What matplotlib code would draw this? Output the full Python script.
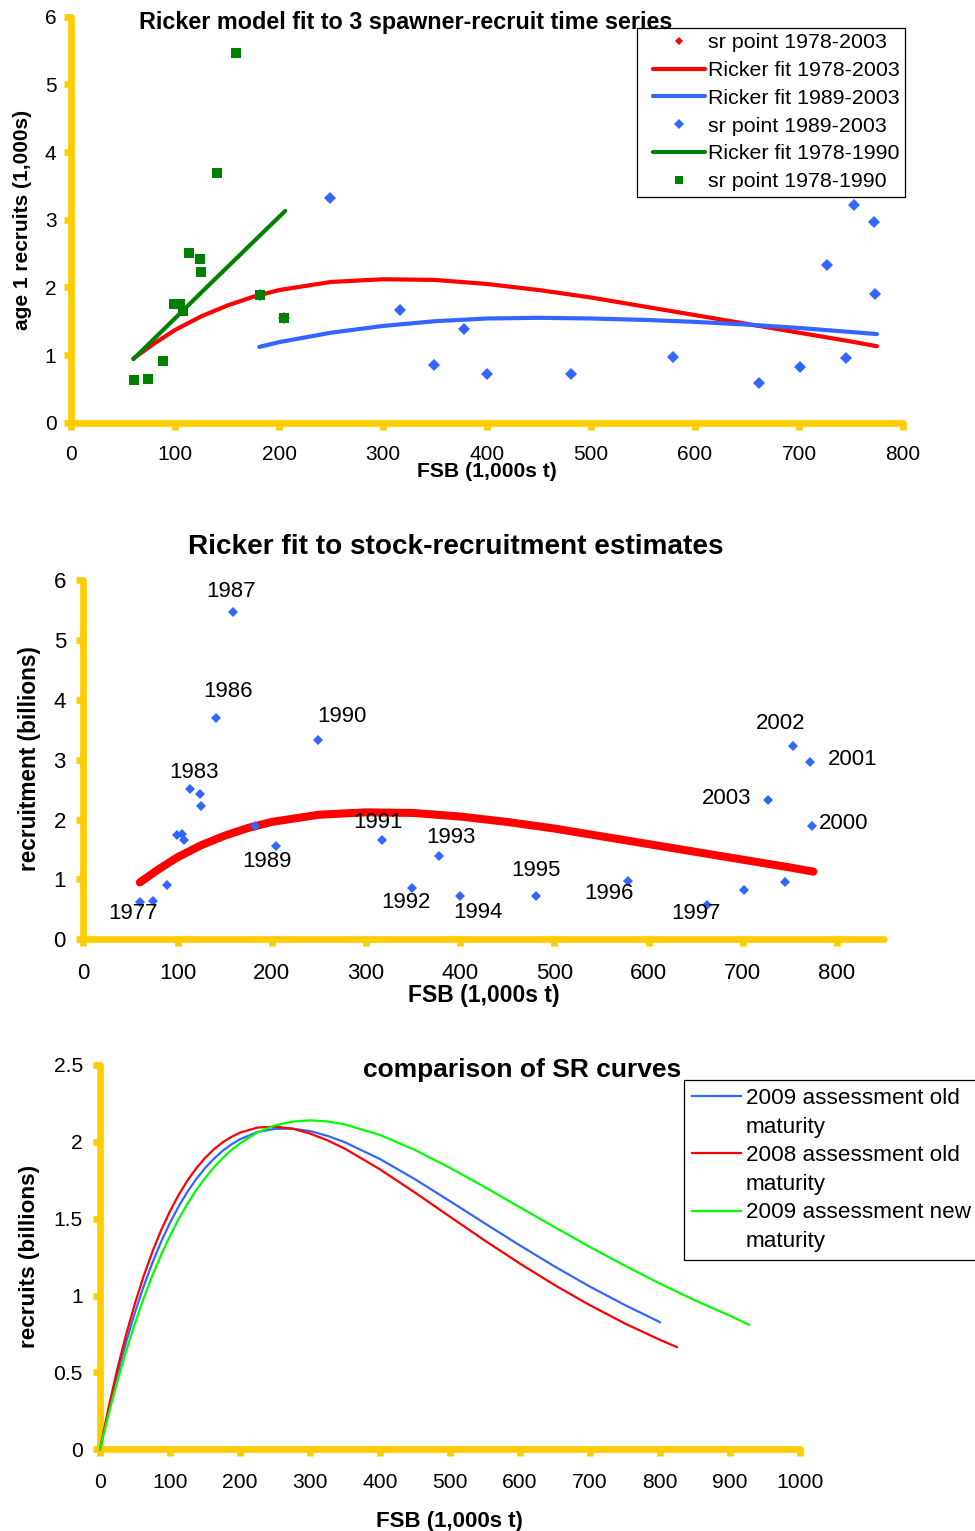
import matplotlib.pyplot as plt
from matplotlib.lines import Line2D
from matplotlib.legend_handler import HandlerLine2D

plt.rcParams['font.family'] = ['Liberation Sans', 'DejaVu Sans']

# spawner-recruit points, one per year (FSB 1,000s t, recruits billions)
years = list(range(1977, 2004))
fsb = [60.3, 74.3, 88.8, 99.0, 104.8, 107.4, 113.5, 124.0, 124.7, 140.4,
       159.0, 182.0, 205.0, 249.0, 316.6, 349.4, 377.6, 400.3, 480.8, 578.5,
       661.9, 701.3, 745.2, 773.4, 771.8, 753.2, 726.6]
recruits = [0.63, 0.64, 0.91, 1.75, 1.76, 1.65, 2.51, 2.42, 2.22, 3.69,
            5.46, 1.89, 1.55, 3.32, 1.66, 0.86, 1.39, 0.72, 0.72, 0.975,
            0.58, 0.83, 0.95, 1.90, 2.96, 3.22, 2.33]
labelled_years = [1977, 1983, 1986, 1987, 1989, 1990, 1991, 1992, 1993, 1994,
                  1995, 1996, 1997, 2000, 2001, 2002, 2003]

# Ricker fits
fit_all_x = [60, 80, 100, 125, 150, 175, 200, 250, 300, 350, 400, 450, 500,
             550, 600, 650, 700, 750, 775]
fit_all_y = [0.95, 1.17, 1.37, 1.57, 1.73, 1.86, 1.96, 2.08, 2.12, 2.11, 2.05,
             1.96, 1.85, 1.72, 1.59, 1.46, 1.33, 1.20, 1.13]
fit_late_x = [181, 200, 250, 300, 350, 400, 450, 500, 550, 600, 650, 700, 750, 775]
fit_late_y = [1.12, 1.19, 1.33, 1.43, 1.50, 1.54, 1.55, 1.54, 1.52, 1.49, 1.45,
              1.40, 1.34, 1.31]
fit_early_x = [60, 133, 206]
fit_early_y = [0.94, 2.04, 3.13]

# SR curves of the three assessments (bottom chart)
old09_x = [0, 12.5, 25, 37.5, 50, 62.5, 75, 87.5, 100, 112.5, 125, 137.5, 150,
           162.5, 175, 187.5, 200, 225, 250, 275, 300, 325, 350, 400, 450,
           500, 550, 600, 650, 700, 750, 800]
old09_y = [0, 0.257, 0.49, 0.701, 0.891, 1.062, 1.215, 1.352, 1.474, 1.581,
           1.676, 1.758, 1.829, 1.889, 1.941, 1.983, 2.017, 2.064, 2.085,
           2.086, 2.070, 2.039, 1.997, 1.888, 1.757, 1.614, 1.469, 1.326,
           1.188, 1.058, 0.938, 0.827]
old08_x = [0, 12.5, 25, 37.5, 50, 62.5, 75, 87.5, 100, 112.5, 125, 137.5, 150,
           162.5, 175, 187.5, 200, 225, 250, 275, 300, 325, 350, 400, 450,
           500, 550, 600, 650, 700, 750, 800, 824]
old08_y = [0, 0.277, 0.526, 0.750, 0.95, 1.128, 1.287, 1.427, 1.549, 1.656,
           1.749, 1.828, 1.895, 1.951, 1.996, 2.032, 2.06, 2.093, 2.099, 2.086,
           2.054, 2.010, 1.955, 1.821, 1.67, 1.513, 1.357, 1.208, 1.067,
           0.937, 0.818, 0.712, 0.665]
new09_x = [0, 12.5, 25, 37.5, 50, 62.5, 75, 87.5, 100, 112.5, 125, 137.5, 150,
           162.5, 175, 187.5, 200, 225, 250, 275, 300, 325, 350, 400, 450,
           500, 550, 600, 650, 700, 750, 800, 850, 900, 927]
new09_y = [0, 0.233, 0.446, 0.642, 0.821, 0.984, 1.133, 1.267, 1.389, 1.499,
           1.598, 1.686, 1.764, 1.833, 1.893, 1.946, 1.991, 2.061, 2.107,
           2.132, 2.14, 2.133, 2.113, 2.045, 1.947, 1.831, 1.705, 1.574,
           1.444, 1.316, 1.194, 1.078, 0.969, 0.869, 0.81]

YELLOW = '#FFCC00'
RED = '#FF0000'
BLUE = '#3366FF'
DKGREEN = '#008000'
LTGREEN = '#00FF00'

W, H = 975, 1531


def px_box(left, top, right, bottom):
    return [left / W, 1 - bottom / H, (right - left) / W, (bottom - top) / H]


def style_axes(ax, fs, xpad, ypad):
    for s in ['top', 'right']:
        ax.spines[s].set_visible(False)
    for s in ['left', 'bottom']:
        ax.spines[s].set_color(YELLOW)
        ax.spines[s].set_linewidth(4.8)
        ax.spines[s].set_capstyle('round')
    ax.tick_params(direction='out', length=5, width=4.8, color=YELLOW,
                   labelsize=fs, labelcolor='black')
    ax.tick_params(axis='x', pad=xpad)
    ax.tick_params(axis='y', pad=ypad)


fig = plt.figure(figsize=(9.75, 15.31), dpi=100)

# ---- top chart ----
ax1 = fig.add_axes(px_box(71, 16.7, 903, 422.7))
p_all, = ax1.plot(fsb, recruits, linestyle='none', marker='D', ms=5.6,
                  mew=0, color=RED, zorder=3)
l_all, = ax1.plot(fit_all_x, fit_all_y, color=RED, lw=3, zorder=3,
                  solid_capstyle='round')
l_late, = ax1.plot(fit_late_x, fit_late_y, color=BLUE, lw=3, zorder=3,
                   solid_capstyle='round')
p_late, = ax1.plot(fsb[11:], recruits[11:], linestyle='none', marker='D',
                   ms=5.8, mew=0, color=BLUE, zorder=3)
l_early, = ax1.plot(fit_early_x, fit_early_y, color=DKGREEN, lw=3, zorder=3,
                    solid_capstyle='round')
p_early, = ax1.plot(fsb[:13], recruits[:13], linestyle='none', marker='s',
                    ms=7.6, mew=0, color=DKGREEN, zorder=3)
ax1.set_xlim(0, 800)
ax1.set_ylim(0, 6)
ax1.set_xticks(range(0, 801, 100))
ax1.set_yticks(range(0, 7))
style_axes(ax1, 15, 10.8, 5.5)
leg1 = ax1.legend([p_all, l_all, l_late, p_late, l_early, p_early],
                  ['sr point 1978-2003', 'Ricker fit 1978-2003',
                   'Ricker fit 1989-2003', 'sr point 1989-2003',
                   'Ricker fit 1978-1990', 'sr point 1978-1990'],
                  loc='upper left', bbox_to_anchor=(637 / W, 1 - 28 / H),
                  bbox_transform=fig.transFigure, borderaxespad=0,
                  fontsize=15.4, fancybox=False, framealpha=1,
                  edgecolor='black', borderpad=0.25, labelspacing=0.41,
                  handlelength=2.95, handletextpad=0.1, markerscale=0.8,
                  handler_map={Line2D: HandlerLine2D(xpad=0.48)})
leg1.get_frame().set_linewidth(0.9)
fig.text(406 / W, 1 - 29.3 / H, 'Ricker model fit to 3 spawner-recruit time series',
         ha='center', va='baseline', fontsize=16.8, fontweight='bold')
fig.text(487 / W, 1 - 477 / H, 'FSB (1,000s t)', ha='center', va='baseline',
         fontsize=15.2, fontweight='bold')
fig.text(22.5 / W, 1 - 220 / H, 'age 1 recruits (1,000s)', ha='center',
         va='center', rotation=90, fontsize=15, fontweight='bold')

# ---- middle chart ----
ax2 = fig.add_axes(px_box(83.3, 580, 884, 939.3))
ax2.plot(fit_all_x, fit_all_y, color=RED, lw=5.8, solid_capstyle='round',
         zorder=3)
ax2.plot(fsb, recruits, linestyle='none', marker='D', ms=5, mew=0,
         color=BLUE, zorder=4)
label_offsets = {1977: (-5.3, -8.9), 1983: (2.7, 12.0), 1986: (8.6, 19.4),
                 1987: (-1.4, 15.1), 1989: (-7.0, -10.8), 1990: (17.0, 17.0),
                 1991: (-2.5, 12.7), 1992: (-5.0, -10.6), 1993: (8.4, 13.2),
                 1994: (12.3, -12.1), 1995: (0, 18.5), 1996: (-14.2, -9.1),
                 1997: (-7.9, -6.7), 2000: (22.7, 1.4), 2001: (30.2, 1.7),
                 2002: (-9.0, 16.8), 2003: (-29.3, 0.7)}
for yr in labelled_years:
    i = years.index(yr)
    ax2.annotate(str(yr), (fsb[i], recruits[i]), xytext=label_offsets[yr],
                 textcoords='offset points', ha='center', va='center',
                 fontsize=16, zorder=5)
ax2.set_xlim(0, 850)
ax2.set_ylim(0, 6)
ax2.set_xticks(range(0, 801, 100))
ax2.set_yticks(range(0, 7))
style_axes(ax2, 16, 12, 7.5)
fig.text(455.8 / W, 1 - 554 / H, 'Ricker fit to stock-recruitment estimates',
         ha='center', va='baseline', fontsize=20.1, fontweight='bold')
fig.text(483.5 / W, 1 - 1001.7 / H, 'FSB (1,000s t)', ha='center',
         va='baseline', fontsize=16.5, fontweight='bold')
fig.text(29.5 / W, 1 - 759 / H, 'recruitment (billions)', ha='center',
         va='center', rotation=90, fontsize=16.3, fontweight='bold')

# ---- bottom chart ----
ax3 = fig.add_axes(px_box(100, 1065, 800, 1449.3))
c1, = ax3.plot(old09_x, old09_y, color=BLUE, lw=1.6, zorder=3, clip_on=False)
c2, = ax3.plot(old08_x, old08_y, color=RED, lw=1.6, zorder=3, clip_on=False)
c3, = ax3.plot(new09_x, new09_y, color=LTGREEN, lw=1.6, zorder=3, clip_on=False)
ax3.set_xlim(0, 1000)
ax3.set_ylim(0, 2.5)
ax3.set_xticks(range(0, 1001, 100))
ax3.set_yticks([0, 0.5, 1, 1.5, 2, 2.5])
ax3.set_yticklabels(['0', '0.5', '1', '1.5', '2', '2.5'])
style_axes(ax3, 15.2, 12.2, 7.4)
blank = Line2D([], [], linestyle='none')
leg3 = ax3.legend([c1, blank, c2, blank, c3, blank],
                  ['2009 assessment old', 'maturity', '2008 assessment old',
                   'maturity', '2009 assessment new', 'maturity'],
                  loc='upper left', bbox_to_anchor=(684 / W, 1 - 1080 / H),
                  bbox_transform=fig.transFigure, borderaxespad=0,
                  fontsize=16.2, fancybox=False, framealpha=1,
                  edgecolor='black', borderpad=0.35, labelspacing=0.34,
                  handlelength=2.18, handletextpad=0.22,
                  handler_map={Line2D: HandlerLine2D(xpad=0.01)})
leg3.get_frame().set_linewidth(0.9)
fig.text(522.2 / W, 1 - 1077 / H, 'comparison of SR curves', ha='center',
         va='baseline', fontsize=19, fontweight='bold')
fig.text(449.5 / W, 1 - 1526.7 / H, 'FSB (1,000s t)', ha='center',
         va='baseline', fontsize=16, fontweight='bold')
fig.text(30 / W, 1 - 1256.5 / H, 'recruits (billions)', ha='center',
         va='center', rotation=90, fontsize=16.2, fontweight='bold')

fig.savefig('out.png', dpi=100)
